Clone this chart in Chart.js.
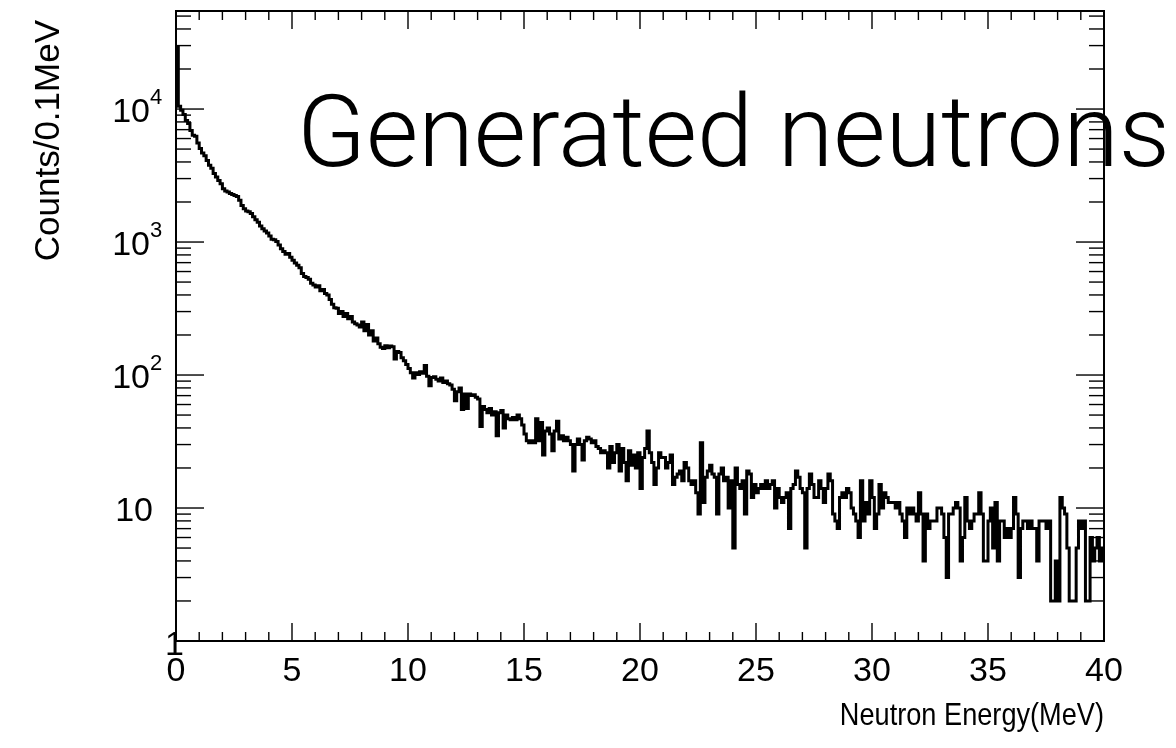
<!DOCTYPE html>
<html>
<head>
<meta charset="utf-8">
<script src="https://cdn.jsdelivr.net/npm/chart.js@4.4.1/dist/chart.umd.min.js"></script>
<style>
  html, body { margin: 0; padding: 0; background: #fff; }
  #wrap { position: relative; width: 1176px; height: 748px; }
</style>
</head>
<body>
<div id="wrap"><canvas id="c"></canvas></div>
<script>
// ---- data: neutron counts per 0.1 MeV bin ----
const binWidth = 0.1;           // MeV
const xMin = 0, xMax = 40;
const yMin = 1, yMax = 54600;

const counts_0_10 = [
  29000, 10500, 9800, 9100, 8200, 7780, 6900, 6350, 6250, 5560,
  5050, 4680, 4450, 4100, 3780, 3580, 3270, 3080, 2900, 2740,
  2520, 2420, 2380, 2320, 2280, 2240, 2200, 2060, 1880, 1780,
  1710, 1690, 1640, 1550, 1470, 1410, 1320, 1260, 1210, 1170,
  1110, 1050, 1040, 1010, 950, 890, 850, 810, 820, 770,
  730, 695, 670, 640, 580, 550, 540, 525, 490, 475,
  460, 470, 430, 440, 410, 400, 370, 340, 320, 318,
  290, 300, 275, 290, 265, 275, 250, 243, 238, 230,
  250, 215, 240, 200, 215, 180, 190, 172, 162, 158,
  166, 160, 165, 163, 132, 150, 148, 135, 128, 120
];
const counts_10_20 = [
  112, 104, 95, 104, 101, 106, 103, 118, 98, 83,
  96, 97, 93, 90, 95, 88, 90, 86, 84, 78,
  64, 75, 80, 55, 72, 56, 72, 70, 71, 68,
  66, 41, 58, 55, 52, 56, 50, 53, 35, 52,
  54, 40, 50, 47, 46, 48, 46, 50, 47, 42,
  36, 32, 31, 32, 31, 47, 32, 44, 25, 38,
  40, 36, 27, 38, 45, 33, 35, 32, 34, 32,
  30, 19, 30, 33, 30, 23, 32, 34, 33, 31,
  32, 29, 28, 26, 27, 26, 20, 29, 22, 26,
  30, 19, 28, 22, 16, 27, 21, 25, 20, 26
];
const counts_20_30 = [
  14, 24, 28, 38, 26, 22, 15, 20, 26, 24,
  24, 20, 22, 25, 15, 17, 18, 19, 16, 22,
  20, 16, 15, 16, 13, 9, 31, 11, 17, 19,
  21, 18, 17, 9, 18, 20, 16, 17, 10, 16,
  5, 20, 15, 14, 16, 9, 19, 18, 12, 15,
  13, 14, 15, 14, 16, 14, 15, 16, 10, 14,
  12, 11, 12, 13, 7, 14, 15, 19, 17, 14,
  13, 5, 14, 18, 15, 12, 12, 16, 14, 11,
  14, 18, 16, 9, 8, 7, 12, 13, 12, 14,
  13, 10, 9, 8, 6, 16, 8, 11, 9, 16
];
const counts_30_40 = [
  12, 7, 9, 15, 10, 13, 12, 11, 11, 11,
  10, 11, 9, 8, 6, 10, 9, 10, 9, 8,
  13, 9, 4, 9, 7, 8, 8, 8, 10, 10,
  9, 6, 3, 9, 9, 10, 11, 10, 4, 6,
  12, 8, 7, 8, 9, 9, 13, 9, 4, 4,
  8, 10, 5, 11, 4, 8, 8, 6, 7, 6,
  7, 12, 9, 3, 7, 8, 8, 7, 8, 7,
  7, 4, 8, 8, 8, 7, 8, 2, 2, 4,
  2, 12, 10, 9, 5, 2, 2, 2, 5, 8,
  7, 8, 2, 2, 6, 4, 5, 6, 4, 5
];

const xTickValues = [0, 5, 10, 15, 20, 25, 30, 35, 40];
const yTickValues = [1, 10, 100, 1000, 10000];
const yTickBase = ['1', '10', '10', '10', '10'];
const yTickExp  = ['', '', '2', '3', '4'];

const titleText = 'Generated neutrons';
const xTitle = 'Neutron Energy(MeV)';
const yTitle = 'Counts/0.1MeV';

// ---- build histogram outline points (left bin edges + closing edge) ----
const counts = [].concat(counts_0_10, counts_10_20, counts_20_30, counts_30_40);
const points = counts.map((c, i) => ({ x: xMin + i * binWidth, y: c }));
points.push({ x: xMax, y: counts[counts.length - 1] });

const FONT = '"Liberation Sans", Arial, Helvetica, sans-serif';

const rootFrame = {
  id: 'rootFrame',
  afterDatasetsDraw(chart) {
    const { ctx, chartArea: a, scales: { x, y } } = chart;
    ctx.save();
    ctx.strokeStyle = '#000';
    ctx.lineWidth = 1.4;
    const seg = (x1, y1, x2, y2) => { ctx.beginPath(); ctx.moveTo(x1, y1); ctx.lineTo(x2, y2); ctx.stroke(); };
    // x ticks (bottom and top, inward)
    for (let v = xMin; v <= xMax; v += 1) {
      const px = x.getPixelForValue(v);
      const len = (v % 5 === 0) ? 18 : 9;
      seg(px, a.bottom, px, a.bottom - len);
      seg(px, a.top, px, a.top + len);
    }
    // y ticks (left and right, inward)
    for (let d = 0; d <= 5; d++) {
      for (let m = 1; m <= 9; m++) {
        const v = m * Math.pow(10, d);
        if (v < yMin || v > y.max) continue;
        const py = y.getPixelForValue(v);
        const len = (m === 1) ? 28 : 15;
        seg(a.left, py, a.left + len, py);
        seg(a.right, py, a.right - len, py);
      }
    }
    // frame
    ctx.lineWidth = 2;
    ctx.strokeRect(a.left, a.top, a.right - a.left, a.bottom - a.top);

    ctx.fillStyle = '#000';
    ctx.textBaseline = 'alphabetic';
    // x tick labels
    ctx.font = '34px ' + FONT;
    ctx.textAlign = 'center';
    xTickValues.forEach(v => {
      ctx.fillText(String(v), x.getPixelForValue(v), a.bottom + 40);
    });
    // y tick labels
    yTickValues.forEach((v, i) => {
      const py = y.getPixelForValue(v);
      ctx.font = '34px ' + FONT;
      ctx.textAlign = 'right';
      if (v === 1) {
        ctx.fillText(yTickBase[i], a.left + 8, py + 14);
      } else if (yTickExp[i]) {
        ctx.fillText(yTickBase[i], a.left - 26, py + 13);
        ctx.font = '22px ' + FONT;
        ctx.textAlign = 'left';
        ctx.fillText(yTickExp[i], a.left - 26, py - 5);
      } else {
        ctx.fillText(yTickBase[i], a.left - 23, py + 13);
      }
    });
    // x axis title (slightly tall glyphs, as in the original)
    ctx.save();
    ctx.translate(a.right, a.bottom + 84);
    ctx.scale(0.97, 1.15);
    ctx.font = '28px ' + FONT;
    ctx.textAlign = 'right';
    ctx.fillText(xTitle, 0, 0);
    ctx.restore();
    // y axis title
    ctx.save();
    ctx.translate(59, 20);
    ctx.rotate(-Math.PI / 2);
    ctx.font = '35px ' + FONT;
    ctx.textAlign = 'right';
    ctx.fillText(yTitle, 0, 0);
    ctx.restore();

    // overlay title
    ctx.font = '300 96px Roboto, "Open Sans", sans-serif';
    const w = ctx.measureText(titleText).width;
    const size = 96 * 873 / w;
    ctx.font = '300 ' + size.toFixed(1) + 'px Roboto, "Open Sans", sans-serif';
    ctx.textAlign = 'left';
    ctx.fillText(titleText, 297, 166);
    ctx.restore();
  }
};

new Chart(document.getElementById('c'), {
  type: 'line',
  data: {
    datasets: [{
      data: points,
      stepped: true,
      borderColor: '#000',
      borderWidth: 3,
      pointRadius: 0,
      fill: false,
      tension: 0,
      borderJoinStyle: 'miter'
    }]
  },
  options: {
    responsive: true,
    maintainAspectRatio: false,
    animation: false,
    events: [],
    layout: { padding: { left: 176, top: 11, right: 72, bottom: 107 } },
    plugins: { legend: { display: false }, tooltip: { enabled: false }, title: { display: false } },
    scales: {
      x: { type: 'linear', min: xMin, max: xMax, display: false },
      y: { type: 'logarithmic', min: yMin, max: yMax, display: false }
    }
  },
  plugins: [rootFrame]
});
</script>
</body>
</html>
